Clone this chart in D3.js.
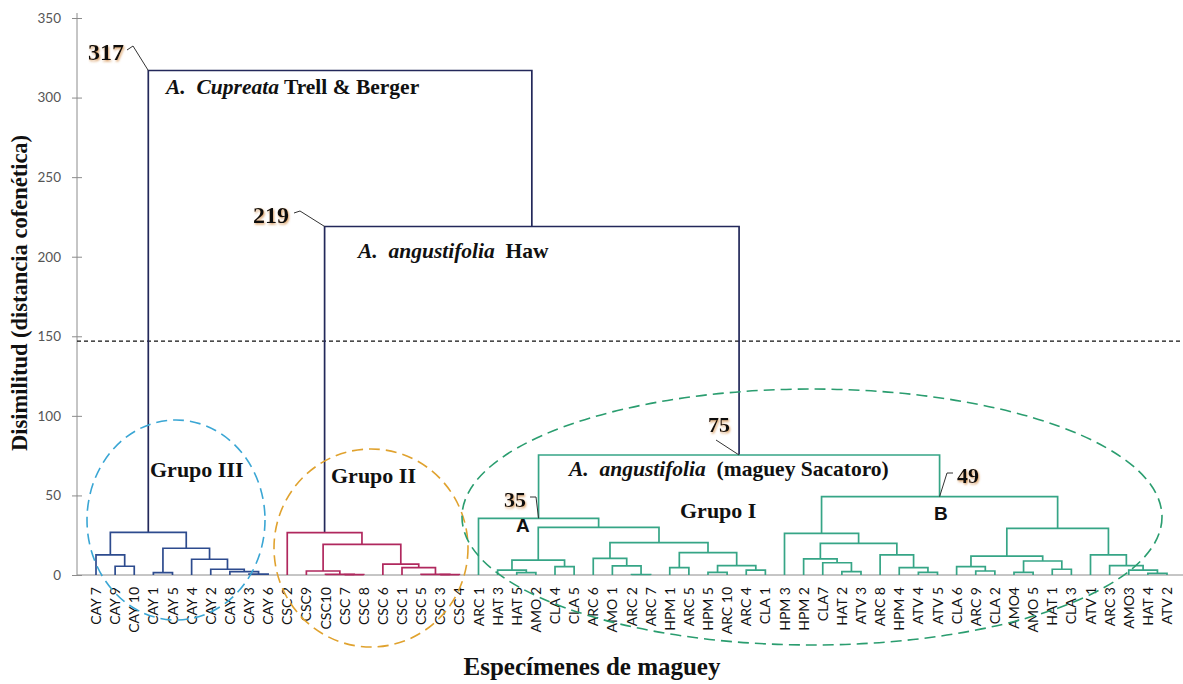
<!DOCTYPE html>
<html>
<head>
<meta charset="utf-8">
<script src="https://cdn.jsdelivr.net/npm/d3@7"></script>
<style>
  body { margin: 0; background: #fff; }
  svg { display: block; }
  .tick text { font-family: Lato, "Liberation Sans", sans-serif; font-size: 13.5px; fill: #555; }
  .serif { font-family: "Liberation Serif", "DejaVu Serif", serif; font-weight: bold; fill: #111; white-space: pre; }
</style>
</head>
<body>
<div id="chart"></div>
<script>
var width = 1183,
    height = 684;

// leaf order, left to right
var leaves = ["CAY 7", "CAY 9", "CAY 10", "CAY 1", "CAY 5", "CAY 4", "CAY 2", "CAY 8", "CAY 3", "CAY 6",
    "CSC 2", "CSC9", "CSC10", "CSC 7", "CSC 8", "CSC 6", "CSC 1", "CSC 5", "CSC 3", "CSC 4",
    "ARC 1", "HAT 3", "HAT 5", "AMO 2", "CLA 4", "CLA 5", "ARC 6", "AMO 1", "ARC 2", "ARC 7",
    "HPM 1", "ARC 5", "HPM 5", "ARC 10", "ARC 4", "CLA 1", "HPM 3", "HPM 2", "CLA7", "HAT 2",
    "ATV 3", "ARC 8", "HPM 4", "ATV 4", "ATV 5", "CLA 6", "ARC 9", "CLA 2", "AMO4", "AMO 5",
    "HAT 1", "CLA 3", "ATV 1", "ARC 3", "AMO3", "HAT 4", "ATV 2"];

// merges: [left, right, height]; "#k" = result of merge k
var merges = [
    ["CAY 9", "CAY 10", 5.5], ["CAY 7", "#0", 12.6], ["CAY 1", "CAY 5", 1.5], ["CAY 3", "CAY 6", 0.5],
    ["CAY 8", "#3", 2.1], ["CAY 2", "#4", 3.6], ["CAY 4", "#5", 9.9], ["#2", "#6", 16.8], ["#1", "#7", 26.8],
    ["CSC 7", "CSC 8", 0.2], ["CSC10", "#9", 0.4], ["CSC9", "#10", 2.5], ["CSC 3", "CSC 4", 0.2],
    ["CSC 5", "#12", 0.4], ["CSC 1", "#13", 4.6], ["CSC 6", "#14", 6.8], ["#11", "#15", 19.3], ["CSC 2", "#16", 26.6],
    ["HAT 5", "AMO 2", 1.5], ["HAT 3", "#18", 3.1], ["CLA 4", "CLA 5", 5.2], ["#19", "#20", 9.4],
    ["ARC 2", "ARC 7", 0.3], ["AMO 1", "#22", 5.7], ["ARC 6", "#23", 10.5], ["HPM 1", "ARC 5", 4.6],
    ["HPM 5", "ARC 10", 1.7], ["ARC 4", "CLA 1", 3.1], ["#26", "#27", 5.9], ["#25", "#28", 14.0],
    ["#24", "#29", 20.3], ["#21", "#30", 29.9], ["ARC 1", "#31", 35.6],
    ["HAT 2", "ATV 3", 2.1], ["CLA7", "#33", 7.7], ["HPM 2", "#34", 10.1], ["ATV 4", "ATV 5", 1.7],
    ["HPM 4", "#36", 4.6], ["ARC 8", "#37", 12.6], ["#35", "#38", 19.9], ["HPM 3", "#39", 26.2],
    ["ARC 9", "CLA 2", 2.5], ["CLA 6", "#41", 5.2], ["AMO4", "AMO 5", 1.7], ["HAT 1", "CLA 3", 3.6],
    ["#43", "#44", 8.8], ["#42", "#45", 11.9], ["HAT 4", "ATV 2", 1.0], ["AMO3", "#47", 3.1],
    ["ARC 3", "#48", 5.9], ["ATV 1", "#49", 12.6], ["#46", "#50", 29.3], ["#40", "#51", 49.2],
    ["#32", "#52", 75.4], ["#17", "#53", 219], ["#8", "#54", 317]
];

var yTicks = [0, 50, 100, 150, 200, 250, 300, 350];
var cutHeight = 147;

// numbered nodes: [value shown, merge index]
var marked = [[317, 55], [219, 54], [75, 53], [35, 32], [49, 52]];

var svg = d3.select("#chart").append("svg")
    .attr("width", width)
    .attr("height", height);

var defs = svg.append("defs");
var f = defs.append("filter").attr("id", "glow")
    .attr("x", "-20%").attr("y", "-20%").attr("width", "150%").attr("height", "150%");
f.append("feDropShadow").attr("dx", 1).attr("dy", 1.5).attr("stdDeviation", 1.2)
    .attr("flood-color", "#d08a45").attr("flood-opacity", 0.8);

var x = d3.scalePoint()
    .domain(leaves)
    .range([96, 1167]);

var y = d3.scaleLinear()
    .domain([0, 350])
    .range([575, 18]);

// build tree
var nodes = {};
leaves.forEach(function (d) {
    nodes[d] = { name: d, h: 0, x: x(d), members: [d] };
});
merges.forEach(function (m, i) {
    var a = nodes[m[0]], b = nodes[m[1]];
    nodes["#" + i] = { name: "#" + i, h: m[2], x: (a.x + b.x) / 2, children: [a, b], members: a.members.concat(b.members) };
});
var root = d3.hierarchy(nodes["#" + (merges.length - 1)]);

function color(d) {
    if (d.members.every(m => m.indexOf("CAY") == 0)) return "#2d4b8e";
    if (d.members.every(m => m.indexOf("CSC") == 0)) return "#b0285e";
    if (d.h < 100) return "#36a586";
    return "#23285a";
}

// axes
var yAxis = svg.append("g")
    .attr("transform", "translate(77,0)")
    .call(d3.axisLeft(y).tickValues(yTicks).tickSize(5).tickPadding(11));
yAxis.select(".domain").attr("stroke", "#8c8c8c").attr("d", "M0," + y(0) + "V" + (y(350) - 5));
yAxis.selectAll(".tick line").attr("stroke", "#8c8c8c").attr("x2", -5).attr("x1", 5);

svg.append("line")
    .attr("x1", 77).attr("x2", width)
    .attr("y1", y(0)).attr("y2", y(0))
    .attr("stroke", "#8c8c8c");

// cut line
svg.append("line")
    .attr("x1", 77).attr("x2", width)
    .attr("y1", y(cutHeight)).attr("y2", y(cutHeight))
    .attr("stroke", "#111")
    .attr("stroke-width", 1.2)
    .attr("stroke-dasharray", "4,3");

// links
svg.append("g").selectAll("path")
    .data(root.descendants().filter(d => d.children))
    .enter().append("path")
    .attr("fill", "none")
    .attr("stroke-width", 1.7)
    .attr("stroke", d => color(d.data))
    .attr("d", function (d) {
        var a = d.data.children[0], b = d.data.children[1];
        return "M" + a.x + "," + y(a.h) + "V" + y(d.data.h) + "H" + b.x + "V" + y(b.h);
    });

// leaf labels
svg.append("g").selectAll("text")
    .data(leaves)
    .enter().append("text")
    .attr("transform", d => "translate(" + x(d) + ",587) rotate(-90)")
    .attr("text-anchor", "end")
    .attr("dy", "0.36em")
    .style("font-family", "Lato, 'Liberation Sans', sans-serif")
    .style("font-size", "14px")
    .style("fill", "#111")
    .text(d => d);

// group ellipses
var ellipses = [
    { cx: 176, cy: 520, rx: 89, ry: 100, c: "#3aa6d4" },
    { cx: 371, cy: 548, rx: 97, ry: 99, c: "#e0a22e" },
    { cx: 812, cy: 517, rx: 350, ry: 128, c: "#2a9d6f" }
];
svg.append("g").selectAll("ellipse")
    .data(ellipses)
    .enter().append("ellipse")
    .attr("cx", d => d.cx).attr("cy", d => d.cy)
    .attr("rx", d => d.rx).attr("ry", d => d.ry)
    .attr("fill", "none")
    .attr("stroke", d => d.c)
    .attr("stroke-width", 1.6)
    .attr("stroke-dasharray", "11,6");

// numbered node labels with leader lines (end: "left" corner or "mid" of the node bar)
var numPos = {
    317: { tx: 124, ty: 60, fs: 24, end: "left", leader: [[127, 50], [133, 46]] },
    219: { tx: 289, ty: 223, fs: 24, end: "left", leader: [[294, 213], [300, 211]] },
    75: { tx: 730, ty: 432, fs: 22, end: "mid", leader: [[716, 440]] },
    35: { tx: 526, ty: 507, fs: 22, end: "mid", leader: [[530, 497], [536, 497]] },
    49: { tx: 957, ty: 483, fs: 22, end: "mid", leader: [[953, 473], [947, 473]] }
};
marked.forEach(function (m) {
    var n = nodes["#" + m[1]], p = numPos[m[0]];
    var ex = p.end == "left" ? n.children[0].x : n.x;
    var pts = p.leader.concat([[ex, y(n.h)]]);
    svg.append("path")
        .attr("d", d3.line()(pts))
        .attr("fill", "none")
        .attr("stroke", "#333")
        .attr("stroke-width", 1);
    svg.append("text")
        .attr("class", "serif")
        .attr("x", p.tx).attr("y", p.ty)
        .attr("text-anchor", m[0] == 49 ? "start" : "end")
        .style("font-size", p.fs + "px")
        .attr("filter", "url(#glow)")
        .text(m[0]);
});

// species labels
function species(xp, yp, fs, parts) {
    var t = svg.append("text").attr("class", "serif")
        .attr("x", xp).attr("y", yp)
        .style("font-size", fs + "px");
    parts.forEach(function (p) {
        t.append("tspan").style("font-style", p[1] ? "italic" : "normal").text(p[0]);
    });
}
species(166, 94, 21.5, [["A.  Cupreata", true], [" Trell & Berger", false]]);
species(358, 258, 21.5, [["A.  angustifolia", true], ["  Haw", false]]);
species(569, 476, 21.5, [["A.  angustifolia", true], ["  (maguey Sacatoro)", false]]);

var groups = [["Grupo III", 150, 477], ["Grupo II", 331, 483], ["Grupo I", 680, 518]];
svg.append("g").selectAll("text")
    .data(groups)
    .enter().append("text")
    .attr("class", "serif")
    .attr("x", d => d[1]).attr("y", d => d[2])
    .style("font-size", "22px")
    .text(d => d[0]);

var subs = [["A", 516, 532], ["B", 934, 520]];
svg.append("g").selectAll("text")
    .data(subs)
    .enter().append("text")
    .attr("x", d => d[1]).attr("y", d => d[2])
    .style("font-family", "'Liberation Sans', Arial, sans-serif")
    .style("font-weight", "bold")
    .style("font-size", "19px")
    .style("fill", "#111")
    .text(d => d[0]);

// axis titles
svg.append("text")
    .attr("class", "serif")
    .attr("transform", "translate(27,293) rotate(-90)")
    .attr("text-anchor", "middle")
    .style("font-size", "22.5px")
    .text("Disimilitud (distancia cofenética)");

svg.append("text")
    .attr("class", "serif")
    .attr("x", 592).attr("y", 675)
    .attr("text-anchor", "middle")
    .style("font-size", "25px")
    .text("Especímenes de maguey");
</script>
</body>
</html>
